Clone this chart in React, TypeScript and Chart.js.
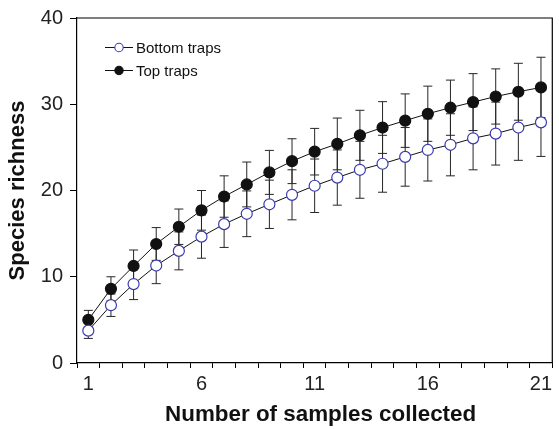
import React, { useEffect, useRef } from "react";
import { Chart, registerables } from "chart.js";

Chart.register(...registerables);

const samples = ["1", "2", "3", "4", "5", "6", "7", "8", "9", "10", "11", "12", "13", "14", "15", "16", "17", "18", "19", "20", "21"];
const shownXLabels = ["1", "6", "11", "16", "21"];
const yTicks = [0, 10, 20, 30, 40];

const bottomMean = [3.75, 6.7, 9.15, 11.3, 13.0, 14.65, 16.1, 17.3, 18.4, 19.5, 20.55, 21.5, 22.4, 23.1, 23.9, 24.7, 25.3, 26.05, 26.6, 27.3, 27.9];
const bottomErr = [0.9, 1.3, 1.8, 2.1, 2.2, 2.5, 2.7, 2.65, 2.8, 2.9, 3.1, 3.2, 3.3, 3.3, 3.4, 3.6, 3.6, 3.65, 3.65, 3.8, 3.95];
const topMean = [5.0, 8.6, 11.25, 13.8, 15.8, 17.7, 19.3, 20.7, 22.1, 23.4, 24.5, 25.4, 26.4, 27.3, 28.1, 28.9, 29.6, 30.25, 30.9, 31.45, 31.95];
const topErr = [1.1, 1.4, 1.85, 1.9, 2.05, 2.3, 2.4, 2.6, 2.55, 2.6, 2.7, 3.0, 2.9, 3.0, 3.1, 3.2, 3.2, 3.3, 3.2, 3.3, 3.5];

const seriesNames = ["Bottom traps", "Top traps"];
const xTitle = "Number of samples collected";
const yTitle = "Species richness";

const FONT = "'Liberation Sans', Arial, Helvetica, sans-serif";
const BLUE = "#3b3bb0";
const DARK = "#111111";

const errors = [bottomErr, topErr];

const errorBarPlugin = {
  id: "errorBars",
  beforeDatasetsDraw(chart: any) {
    const ctx = chart.ctx;
    const yScale = chart.scales.y;
    ctx.save();
    ctx.strokeStyle = "#262626";
    ctx.lineWidth = 1;
    chart.data.datasets.forEach((ds: any, i: number) => {
      const meta = chart.getDatasetMeta(i);
      meta.data.forEach((pt: any, j: number) => {
        const v = ds.data[j];
        const e = errors[i][j];
        const x = pt.x;
        const y1 = yScale.getPixelForValue(v + e);
        const y2 = yScale.getPixelForValue(v - e);
        ctx.beginPath();
        ctx.moveTo(x, y1);
        ctx.lineTo(x, y2);
        ctx.moveTo(x - 4.5, y1);
        ctx.lineTo(x + 4.5, y1);
        ctx.moveTo(x - 4.5, y2);
        ctx.lineTo(x + 4.5, y2);
        ctx.stroke();
      });
    });
    ctx.restore();
  },
};

const framePlugin = {
  id: "frameAndLegend",
  afterDraw(chart: any) {
    const ctx = chart.ctx;
    const a = chart.chartArea;
    ctx.save();
    ctx.strokeStyle = "#000";
    ctx.lineWidth = 1.2;
    ctx.beginPath();
    ctx.moveTo(a.left, a.top);
    ctx.lineTo(a.right, a.top);
    ctx.lineTo(a.right, a.bottom);
    ctx.stroke();

    // x axis title
    ctx.fillStyle = "#111";
    ctx.font = `bold 22.4px ${FONT}`;
    ctx.textAlign = "center";
    ctx.textBaseline = "middle";
    ctx.fillText(xTitle, (a.left + a.right) / 2 + 6, 415);

    // legend
    [0, 1].forEach((i) => {
      const ds = chart.data.datasets[i];
      const y = a.top + 29.5 + i * 23;
      const x0 = a.left + 28;
      ctx.strokeStyle = DARK;
      ctx.lineWidth = 1;
      ctx.beginPath();
      ctx.moveTo(x0, y);
      ctx.lineTo(x0 + 28, y);
      ctx.stroke();
      ctx.beginPath();
      ctx.arc(x0 + 14, y, 4.2, 0, Math.PI * 2);
      ctx.fillStyle = ds.pointBackgroundColor;
      ctx.fill();
      ctx.strokeStyle = ds.pointBorderColor;
      ctx.lineWidth = 1.1;
      ctx.stroke();
      ctx.fillStyle = "#111";
      ctx.font = `15px ${FONT}`;
      ctx.textBaseline = "middle";
      ctx.textAlign = "left";
      ctx.fillText(ds.label, x0 + 31, y + 1);
    });
    ctx.restore();
  },
};

export default function App() {
  const ref = useRef<HTMLCanvasElement | null>(null);

  useEffect(() => {
    if (!ref.current) return;
    Chart.defaults.font.family = FONT;
    const chart = new Chart(ref.current, {
      type: "line",
      data: {
        labels: samples,
        datasets: [
          {
            label: seriesNames[0],
            data: bottomMean,
            borderColor: DARK,
            borderWidth: 1,
            pointRadius: 5.5,
            pointBorderWidth: 1.2,
            pointBackgroundColor: "#ffffff",
            pointBorderColor: BLUE,
            tension: 0,
          },
          {
            label: seriesNames[1],
            data: topMean,
            borderColor: DARK,
            borderWidth: 1,
            pointRadius: 5.5,
            pointBorderWidth: 1.2,
            pointBackgroundColor: DARK,
            pointBorderColor: DARK,
            tension: 0,
          },
        ],
      },
      options: {
        animation: false,
        responsive: false,
        devicePixelRatio: 1,
        layout: { padding: { top: 18, right: 2, left: 0, bottom: 0 } },
        plugins: {
          legend: { display: false },
          tooltip: { enabled: false },
        },
        scales: {
          x: {
            type: "category",
            offset: true,
            grid: {
              offset: true,
              drawOnChartArea: false,
              drawTicks: true,
              tickLength: 5,
              tickColor: "#000",
              tickWidth: 1,
            },
            border: { display: true, color: "#000", width: 1.2 },
            ticks: {
              autoSkip: false,
              maxRotation: 0,
              padding: 4,
              color: "#222",
              font: { size: 20, family: FONT },
              callback: (_v: any, i: number) => (shownXLabels.includes(samples[i]) ? samples[i] : ""),
            },
            title: { display: false },
            afterFit: (s: any) => {
              s.height = 66;
              s.paddingLeft = 0;
              s.paddingRight = 0;
            },
          },
          y: {
            min: yTicks[0],
            max: yTicks[yTicks.length - 1],
            afterBuildTicks: (s: any) => {
              s.ticks = yTicks.map((v) => ({ value: v }));
            },
            grid: {
              drawOnChartArea: false,
              drawTicks: true,
              tickLength: 7,
              tickColor: "#000",
              tickWidth: 1,
            },
            border: { display: true, color: "#000", width: 1.2 },
            ticks: {
              padding: 7,
              color: "#222",
              font: { size: 20, family: FONT },
            },
            title: {
              display: true,
              text: yTitle,
              color: "#111",
              font: { size: 22, weight: "bold", family: FONT },
              padding: { top: 5, bottom: 0 },
            },
            afterFit: (s: any) => {
              s.width = 77;
              s.paddingTop = 0;
              s.paddingBottom = 0;
            },
          },
        },
      },
      plugins: [errorBarPlugin, framePlugin],
    });
    return () => chart.destroy();
  }, []);

  return (
    <div style={{ position: "absolute", left: 0, top: 0, width: 559, height: 429, background: "#fff" }}>
      <canvas ref={ref} width={559} height={429} />
    </div>
  );
}
